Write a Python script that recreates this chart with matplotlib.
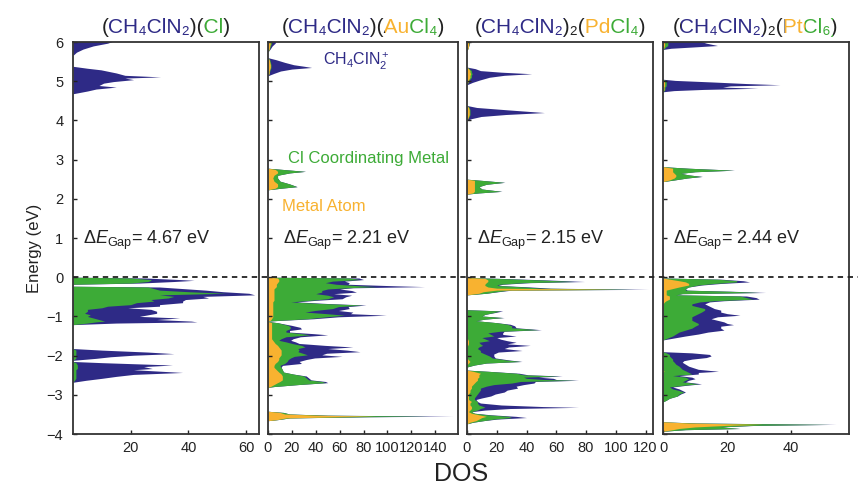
import numpy as np
import matplotlib
matplotlib.use("Agg")
import matplotlib.pyplot as plt
from matplotlib.lines import Line2D
from matplotlib.transforms import Bbox

plt.rcParams['font.family'] = ['Liberation Sans', 'DejaVu Sans']
plt.rcParams['mathtext.fontset'] = 'custom'
plt.rcParams['mathtext.rm'] = 'Liberation Sans'
plt.rcParams['mathtext.it'] = 'Liberation Sans:italic'
plt.rcParams['mathtext.bf'] = 'Liberation Sans:bold'

BLUE = '#2e2a86'
GREEN = '#3dab37'
ORANGE = '#f8b230'
INK = '#222222'

# projected DOS, rows are (energy eV, metal, Cl, CH4ClN2)
# panel 1 has no metal atom
dos_cl = [
    (6.05, 0, 0, 15), (5.97, 0, 0, 12), (5.90, 0, 0, 7), (5.82, 0, 0, 3.5), (5.74, 0, 0, 1.2), (5.66, 0, 0, 0),
    (5.38, 0, 0, 0), (5.33, 0, 0, 5), (5.29, 0, 0, 9.7), (5.21, 0, 0, 15), (5.15, 0, 0, 18), (5.11, 0, 0, 30.4),
    (5.08, 0, 0, 18), (5.04, 0, 0, 21), (4.99, 0, 0, 14), (4.95, 0, 0, 10.6), (4.89, 0, 0, 9), (4.85, 0, 0, 15),
    (4.80, 0, 0, 8), (4.75, 0, 0, 5), (4.68, 0, 0, 0),
    (0.00, 0, 0, 0), (-0.02, 0, 20, 5), (-0.06, 0, 27, 10), (-0.08, 0, 27, 15), (-0.11, 0, 26, 9), (-0.15, 0, 20, 3),
    (-0.18, 0, 0, 0), (-0.23, 0, 0, 0), (-0.25, 0, 26, 4), (-0.29, 0, 28, 10), (-0.33, 0, 30, 16), (-0.37, 0, 40, 12),
    (-0.41, 0, 53, 8), (-0.45, 0, 30, 33), (-0.49, 0, 35, 10), (-0.53, 0, 33, 14), (-0.57, 0, 27, 12),
    (-0.61, 0, 28, 10), (-0.65, 0, 22, 16), (-0.70, 0, 20, 10), (-0.74, 0, 12, 18), (-0.78, 0, 10, 9),
    (-0.82, 0, 5, 22), (-0.87, 0, 5, 24), (-0.92, 0, 4, 25), (-0.96, 0, 6, 20), (-1.00, 0, 5, 18), (-1.04, 0, 7, 30),
    (-1.08, 0, 9, 20), (-1.12, 0, 11, 30), (-1.14, 0, 8, 35), (-1.17, 0, 5, 10), (-1.21, 0, 0, 0),
    (-1.82, 0, 0, 0), (-1.86, 0, 1, 9), (-1.91, 0, 1, 25), (-1.95, 0, 1, 34), (-1.99, 0, 1, 20), (-2.03, 0, 1, 12),
    (-2.07, 0, 1, 7), (-2.12, 0, 0, 0), (-2.15, 0, 0, 0), (-2.18, 0, 1, 9), (-2.24, 0, 1.5, 33), (-2.28, 0, 1.5, 23),
    (-2.33, 0, 1.5, 26), (-2.36, 0, 1, 20), (-2.43, 0, 1, 37), (-2.48, 0, 1, 20), (-2.53, 0, 1, 14),
    (-2.58, 0, 1, 9), (-2.63, 0, 0.5, 4), (-2.68, 0, 0, 0),
]

dos_aucl4 = [
    (6.05, 2, 1, 4), (5.97, 2, 1, 3), (5.90, 1.5, 0.5, 1.5), (5.82, 1, 0.3, 0.5), (5.75, 0, 0, 0),
    (5.60, 0, 0, 0), (5.55, 1, 0.5, 5), (5.48, 1.5, 0.5, 12), (5.42, 2, 0.5, 19), (5.38, 2, 0.5, 28),
    (5.35, 2, 0.5, 34), (5.31, 1.5, 0.5, 18), (5.26, 1, 0.5, 9), (5.20, 1, 0, 4), (5.14, 0, 0, 0),
    (2.78, 0, 0, 0), (2.75, 6, 6, 0), (2.70, 8, 23, 0.5), (2.66, 8, 10, 0), (2.60, 5, 3, 0), (2.53, 4, 4, 0),
    (2.45, 5, 5, 0), (2.38, 8, 10, 0), (2.31, 8, 16, 0.5), (2.27, 6, 5, 0), (2.23, 0, 0, 0),
    (0.00, 0, 0, 0), (-0.02, 8, 60, 8), (-0.06, 9, 68, 3), (-0.10, 9, 45, 10), (-0.14, 8, 40, 20),
    (-0.18, 7, 50, 10), (-0.22, 7, 70, 30), (-0.24, 7, 84, 40), (-0.27, 6, 60, 5), (-0.30, 5, 45, 10),
    (-0.34, 5, 40, 25), (-0.38, 5, 40, 29), (-0.42, 5, 35, 15), (-0.46, 5, 45, 20), (-0.50, 5, 50, 10),
    (-0.55, 5, 45, 12), (-0.59, 5, 30, 5), (-0.63, 4, 15, 5), (-0.67, 4, 40, 5), (-0.71, 4, 75, 3),
    (-0.75, 4, 55, 8), (-0.80, 4, 50, 14), (-0.85, 4, 35, 20), (-0.89, 4, 27, 40), (-0.93, 4, 45, 20),
    (-0.97, 4, 60, 35), (-1.01, 4, 45, 10), (-1.06, 3, 30, 5), (-1.10, 2, 8, 1), (-1.12, 0, 0, 0),
    (-1.13, 0, 0, 0), (-1.16, 3, 5, 0), (-1.23, 3, 14, 3), (-1.28, 3, 16, 8), (-1.32, 3, 15, 10),
    (-1.36, 3, 12, 3), (-1.40, 3, 12, 3), (-1.44, 3, 25, 10), (-1.47, 3, 32, 15), (-1.52, 3, 12, 12),
    (-1.57, 3, 8, 10), (-1.61, 4, 5, 10), (-1.65, 5, 10, 8), (-1.69, 6, 14, 6), (-1.74, 8, 20, 20),
    (-1.78, 9, 22, 40), (-1.82, 10, 15, 25), (-1.86, 11, 15, 40), (-1.90, 11, 14, 52), (-1.94, 11, 18, 20),
    (-1.98, 11, 22, 12), (-2.02, 10, 12, 40), (-2.06, 9, 10, 20), (-2.10, 9, 8, 15), (-2.15, 8, 8, 10),
    (-2.20, 6, 8, 14), (-2.25, 5, 5, 2), (-2.30, 5, 6, 0), (-2.36, 7, 5, 0), (-2.42, 9, 4, 0),
    (-2.47, 11, 10, 0), (-2.52, 12, 18, 2), (-2.57, 12, 20, 2), (-2.62, 12, 22, 2), (-2.66, 10, 35, 3),
    (-2.69, 8, 40, 2), (-2.74, 5, 20, 0), (-2.79, 2, 3, 0), (-2.81, 0, 0, 0),
    (-3.42, 0, 0, 0), (-3.45, 10, 3, 0), (-3.49, 14, 4, 0), (-3.52, 40, 8, 2), (-3.545, 90, 45, 20),
    (-3.56, 60, 20, 5), (-3.59, 15, 3, 0), (-3.63, 8, 1, 0), (-3.66, 0, 0, 0),
]

dos_pdcl4 = [
    (6.05, 1.2, 0.3, 0.3), (5.95, 1.2, 0.2, 0.2), (5.85, 0.8, 0, 0), (5.78, 0, 0, 0),
    (5.36, 0, 0, 0), (5.32, 1, 0.5, 4), (5.27, 2, 1, 6), (5.23, 2, 1, 20), (5.19, 2.5, 1, 40), (5.15, 2, 1, 22),
    (5.10, 2, 1, 12), (5.03, 1, 0.5, 7), (4.97, 0.5, 0.2, 3), (4.91, 0, 0, 0),
    (4.38, 0, 0, 0), (4.33, 1, 0.5, 5), (4.27, 1.5, 0.5, 25), (4.20, 1.5, 0.5, 50), (4.15, 1.5, 0.5, 24),
    (4.10, 1, 0.5, 8), (4.04, 0.5, 0, 2), (4.00, 0, 0, 0),
    (2.50, 0, 0, 0), (2.47, 5, 5, 0), (2.42, 5, 20, 0.5), (2.37, 5, 8, 0), (2.31, 5, 3, 0), (2.25, 5, 5, 0),
    (2.19, 5, 18, 0.5), (2.15, 4, 4, 0), (2.12, 0, 0, 0),
    (-0.01, 0, 0, 0), (-0.03, 12, 8, 2), (-0.07, 14, 35, 5), (-0.11, 14, 58, 7), (-0.14, 13, 25, 4),
    (-0.18, 12, 10, 2), (-0.21, 12, 8, 1), (-0.25, 14, 25, 4), (-0.28, 20, 30, 6), (-0.31, 100, 12, 10),
    (-0.33, 20, 8, 2), (-0.37, 11, 9, 1), (-0.41, 8, 5, 0), (-0.45, 0, 0, 0),
    (-0.83, 0, 0, 0), (-0.86, 0, 22, 2), (-0.90, 0, 18, 1), (-0.95, 0, 12, 0), (-0.99, 0, 10, 0),
    (-1.03, 0, 24, 1), (-1.07, 0, 12, 0), (-1.11, 0, 6, 0), (-1.16, 0, 20, 0), (-1.20, 0, 27, 2),
    (-1.24, 0, 30, 2), (-1.29, 0, 30, 3), (-1.34, 0, 48, 2), (-1.38, 0, 22, 3), (-1.42, 0, 14, 10),
    (-1.46, 0, 16, 8), (-1.50, 0, 18, 15), (-1.54, 0, 10, 10), (-1.58, 0.5, 12, 10), (-1.62, 1, 14, 12),
    (-1.66, 1, 7, 25), (-1.70, 1, 8, 18), (-1.74, 0.5, 10, 32), (-1.78, 0, 8, 20), (-1.82, 0, 7, 18),
    (-1.87, 0, 9, 28), (-1.91, 0, 9, 12), (-1.96, 0, 12, 6), (-2.01, 0, 15, 3), (-2.06, 0, 17, 2),
    (-2.11, 1, 25, 2), (-2.15, 2, 34, 1), (-2.19, 1, 12, 0), (-2.24, 0, 5, 0), (-2.29, 0, 0, 0),
    (-2.37, 0, 0, 0), (-2.40, 4, 10, 0), (-2.45, 9, 24, 2), (-2.49, 8, 30, 3), (-2.52, 8, 54, 2),
    (-2.55, 8, 30, 10), (-2.58, 7, 33, 18), (-2.61, 7, 45, 8), (-2.63, 7, 66, 2), (-2.66, 6, 30, 10),
    (-2.70, 5, 25, 15), (-2.74, 4, 14, 20), (-2.78, 3, 10, 20), (-2.83, 3, 6, 25), (-2.88, 2, 7, 18),
    (-2.93, 2, 6, 17), (-2.98, 1, 6, 12), (-3.03, 1, 5, 10), (-3.08, 1, 4, 5), (-3.12, 1, 4, 1),
    (-3.17, 3, 4, 0), (-3.21, 2, 5, 2), (-3.26, 2, 6, 15), (-3.30, 3, 8, 40), (-3.32, 3, 9, 63),
    (-3.35, 3, 6, 20), (-3.39, 2, 5, 5), (-3.43, 1, 2, 0), (-3.47, 3, 2, 0), (-3.51, 8, 6, 2),
    (-3.55, 13, 15, 5), (-3.58, 10, 20, 10), (-3.62, 8, 10, 2), (-3.66, 6, 5, 0), (-3.70, 2, 2, 0),
    (-3.74, 0, 0, 0),
]

dos_ptcl6 = [
    (6.05, 0.5, 1, 9), (5.97, 0.5, 1, 12), (5.91, 0.5, 1, 15.5), (5.87, 0.3, 0.5, 8), (5.84, 0.2, 0.3, 2),
    (5.81, 0, 0, 0),
    (5.05, 0, 0, 0), (5.02, 0.3, 0.5, 3), (4.98, 0.5, 0.5, 14.5), (4.94, 0.5, 0.5, 25), (4.91, 0.5, 0.5, 35.5),
    (4.88, 0.5, 0.5, 20), (4.85, 0.3, 0.3, 18), (4.82, 0.3, 0.3, 29), (4.79, 0.3, 0.3, 12), (4.76, 0.2, 0.2, 3),
    (4.73, 0, 0, 0),
    (2.82, 0, 0, 0), (2.78, 3, 5, 0), (2.73, 3, 19, 0.3), (2.69, 3, 7, 0), (2.65, 3.5, 2, 0), (2.61, 4, 4, 0),
    (2.57, 4, 8, 0.3), (2.53, 3.5, 4, 0), (2.48, 2, 1.5, 0), (2.44, 0, 0, 0),
    (-0.02, 0, 0, 0), (-0.05, 2, 15, 1), (-0.09, 5, 18, 2), (-0.12, 7, 16, 4), (-0.16, 8, 8, 2),
    (-0.20, 8, 3, 1), (-0.25, 5, 3, 0), (-0.29, 3, 4, 0), (-0.33, 1, 6, 0.5), (-0.36, 1, 20, 1),
    (-0.39, 1, 29, 2), (-0.42, 1, 5, 0), (-0.45, 1, 3, 0), (-0.48, 2, 22, 2), (-0.52, 2, 24, 3),
    (-0.56, 2, 26, 2), (-0.60, 1, 15, 3), (-0.63, 0.5, 11, 3), (-0.68, 0, 9, 4), (-0.72, 0, 9, 5),
    (-0.76, 0, 11, 4), (-0.80, 0, 13, 3), (-0.84, 0, 13, 5), (-0.89, 0, 12, 6), (-0.93, 0, 11, 9),
    (-0.97, 0, 10, 14), (-1.01, 0, 9, 8), (-1.06, 0, 9, 6), (-1.10, 0, 9, 8), (-1.14, 0, 10, 9),
    (-1.18, 0, 11, 9), (-1.21, 0, 11, 11), (-1.25, 0, 10, 8), (-1.30, 0, 9, 9), (-1.35, 0, 7, 12),
    (-1.40, 0, 5, 9), (-1.45, 0, 4, 7), (-1.50, 0, 3, 4), (-1.55, 0, 1.5, 2), (-1.60, 0, 0, 0),
    (-1.90, 0, 0, 0), (-1.93, 0, 1, 8), (-1.97, 0, 2, 12.5), (-2.01, 0, 2, 13), (-2.05, 0, 2.5, 11),
    (-2.09, 0, 3, 6), (-2.13, 0, 3, 3.5), (-2.17, 0, 3.5, 2.5), (-2.22, 0, 4, 3), (-2.27, 0, 5, 3),
    (-2.31, 0, 5.5, 4), (-2.35, 0, 6, 5), (-2.40, 0.3, 7, 10), (-2.43, 0, 8, 3), (-2.47, 0, 9, 2),
    (-2.51, 0, 3, 2), (-2.55, 0, 7, 2), (-2.59, 0, 8, 2), (-2.63, 0, 7, 1), (-2.67, 0, 6, 1),
    (-2.72, 0, 11, 1), (-2.76, 0, 6, 1), (-2.80, 0, 2, 1), (-2.85, 0, 3, 2), (-2.89, 0, 5, 1),
    (-2.93, 0, 6.5, 0.5), (-2.98, 0, 5, 0.5), (-3.03, 0, 4.5, 0), (-3.09, 0, 2, 0), (-3.14, 0, 1, 0),
    (-3.18, 0, 0, 0),
    (-3.69, 0, 0, 0), (-3.72, 8, 2, 0.5), (-3.755, 31, 21, 2), (-3.78, 20, 8, 1), (-3.82, 10, 8, 0),
    (-3.86, 5, 19, 0), (-3.89, 3, 4, 0), (-3.93, 0, 0, 0),
]

gaps = ['4.67', '2.21', '2.15', '2.44']
xlims = [64.5, 159, 125, 58]
xticks = [[20, 40, 60], [0, 20, 40, 60, 80, 100, 120, 140], [0, 20, 40, 60, 80, 100, 120], [0, 20, 40]]
titles = [
    [('(', INK), ('CH₄ClN₂', BLUE), (')(', INK), ('Cl', GREEN), (')', INK)],
    [('(', INK), ('CH₄ClN₂', BLUE), (')(', INK), ('Au', ORANGE), ('Cl₄', GREEN), (')', INK)],
    [('(', INK), ('CH₄ClN₂', BLUE), (')₂(', INK), ('Pd', ORANGE), ('Cl₄', GREEN), (')', INK)],
    [('(', INK), ('CH₄ClN₂', BLUE), (')₂(', INK), ('Pt', ORANGE), ('Cl₆', GREEN), (')', INK)],
]
panels = [dos_cl, dos_aucl4, dos_pdcl4, dos_ptcl6]

W, H = 862, 486
fig = plt.figure(figsize=(W / 100, H / 100), dpi=100)
boxes = [(73, 186), (268, 190), (467, 186), (663, 186)]
renderer = fig.canvas.get_renderer()


def text_width(s, fs):
    t = fig.text(0, 0, s, fontsize=fs)
    w = t.get_window_extent(renderer).width
    t.remove()
    return w


def colored_title(ax, pieces, fs=15):
    # the whole title is drawn once per colour and clipped to that colour's span
    full = ''.join(s for s, _ in pieces)
    bb = ax.get_position()
    x0 = (bb.x0 + bb.x1) / 2 * W - text_width(full, fs) / 2
    y = bb.y1 + 9 / H
    prefix = ''
    left = -W
    for k, (s, c) in enumerate(pieces):
        prefix += s
        right = x0 + text_width(prefix, fs) + 0.8 if k < len(pieces) - 1 else 2 * W
        t = fig.text(x0 / W, y, full, color=c, fontsize=fs, va='baseline')
        t.set_clip_box(Bbox([[left, 0], [right, H]]))
        t.set_clip_on(True)
        left = right


axes = []
for i, rows in enumerate(panels):
    x0, w = boxes[i]
    ax = fig.add_axes([x0 / W, 1 - 434 / H, w / W, 392 / H])
    axes.append(ax)
    arr = np.array(rows, dtype=float)
    e, metal, cl, org = arr[:, 0], arr[:, 1], arr[:, 2], arr[:, 3]
    ax.fill_betweenx(e, 0, metal + cl + org, color=BLUE, lw=0)
    ax.fill_betweenx(e, 0, metal + cl, color=GREEN, lw=0)
    ax.fill_betweenx(e, 0, metal, color=ORANGE, lw=0)

    ax.set_xlim(0, xlims[i])
    ax.set_ylim(-4, 6)
    ax.set_xticks(xticks[i])
    ax.set_yticks(range(-4, 7))
    ax.tick_params(direction='in', length=3, width=1, labelsize=10.5, colors=INK)
    ax.tick_params(axis='x', pad=5)
    ax.tick_params(axis='y', pad=7)
    if i > 0:
        ax.tick_params(axis='y', labelleft=False)
    for sp in ax.spines.values():
        sp.set_linewidth(1.3)
        sp.set_color('#333333')

    xt = 0.079 if i == 1 else 0.054
    ax.text(xt, 0.95, 'Δ$E_{\\rm Gap}$= ' + gaps[i] + ' eV', transform=ax.get_yaxis_transform(),
            fontsize=13, color=INK, va='center', ha='left')
    colored_title(ax, titles[i])

fig.text(35 / W, 1 - 248 / H, 'Energy (eV)', rotation=90, fontsize=12, color=INK,
         ha='center', va='center')

ax2 = axes[1]
ax2.text(0.29, 5.50, 'CH$_4$ClN$_2^+$', transform=ax2.get_yaxis_transform(), color=BLUE,
         fontsize=11.5, va='center')
ax2.text(0.105, 3.02, 'Cl Coordinating Metal', transform=ax2.get_yaxis_transform(), color=GREEN,
         fontsize=12, va='center')
ax2.text(0.074, 1.80, 'Metal Atom', transform=ax2.get_yaxis_transform(), color=ORANGE,
         fontsize=12, va='center')

# Fermi level dashed line across all panels
y0 = fig.transFigure.inverted().transform(axes[0].transData.transform((0, 0)))[1]
x_start = axes[0].get_position().x0
fig.add_artist(Line2D([x_start, 0.995], [y0, y0], transform=fig.transFigure, color=INK,
                      lw=1.3, dashes=(3, 2.5), zorder=5))

fig.text(461 / W, 5 / H, 'DOS', fontsize=18, color=INK, ha='center', va='baseline')

fig.savefig('out.png', dpi=100)
